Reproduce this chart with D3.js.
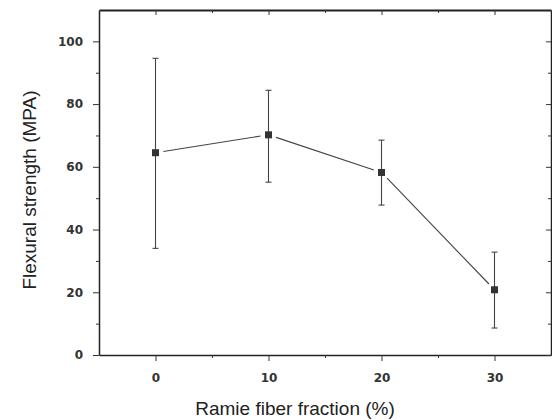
<!DOCTYPE html>
<html>
<head>
<meta charset="utf-8">
<script src="https://cdn.jsdelivr.net/npm/d3@7"></script>
<style>
  body { margin: 0; background: #fff; }
  .tick text { font-family: "DejaVu Sans", sans-serif; font-weight: bold; font-size: 12px; fill: #333; }
  .title { font-family: "Liberation Sans", Arial, sans-serif; font-size: 19px; fill: #222; }
</style>
</head>
<body>
<svg width="552" height="420"></svg>
<script>
// fiber fraction (%) vs flexural strength (MPa)
const fractions = [0, 10, 20, 30];
const strength = [64.5, 70.2, 58.2, 20.8];
const errHigh = [94.6, 84.4, 68.5, 32.8];
const errLow = [34.0, 55.1, 47.8, 8.6];

const xMajor = [0, 10, 20, 30];
const xMinor = [5, 15, 25];
const yMajor = [0, 20, 40, 60, 80, 100];
const yMinor = [10, 30, 50, 70, 90];

const svg = d3.select('svg');

const x = d3.scaleLinear().domain([-5, 35]).range([99, 551]);
const y = d3.scaleLinear().domain([0, 110]).range([355, 10]);

const axisStyle = (g) => {
  g.select('.domain').attr('stroke', '#222').attr('stroke-width', 1.5);
  g.selectAll('.tick line').attr('stroke', '#333');
};

// bottom axis
svg.append('g')
  .attr('transform', `translate(0,${y(0)})`)
  .call(d3.axisBottom(x).tickValues(xMajor).tickSize(6).tickSizeOuter(0).tickPadding(12))
  .call(axisStyle);
svg.append('g')
  .attr('transform', `translate(0,${y(0)})`)
  .call(d3.axisBottom(x).tickValues(xMinor).tickSize(3).tickSizeOuter(0).tickFormat(''))
  .call(g => g.select('.domain').remove())
  .call(axisStyle);

// top axis (ticks inward)
svg.append('g')
  .attr('transform', `translate(0,${y(110)})`)
  .call(d3.axisTop(x).tickValues(xMajor).tickSize(-5).tickSizeOuter(0).tickFormat(''))
  .call(axisStyle)
  .call(g => g.select('.domain').attr('stroke-width', 2.2));
svg.append('g')
  .attr('transform', `translate(0,${y(110)})`)
  .call(d3.axisTop(x).tickValues(xMinor).tickSize(-3).tickFormat(''))
  .call(g => g.select('.domain').remove())
  .call(axisStyle);

// left axis
svg.append('g')
  .attr('transform', `translate(${x(-5)},0)`)
  .call(d3.axisLeft(y).tickValues(yMajor).tickSize(6).tickSizeOuter(0).tickPadding(10))
  .call(axisStyle);
svg.append('g')
  .attr('transform', `translate(${x(-5)},0)`)
  .call(d3.axisLeft(y).tickValues(yMinor).tickSize(3).tickFormat(''))
  .call(g => g.select('.domain').remove())
  .call(axisStyle);

// right axis (ticks inward)
svg.append('g')
  .attr('transform', `translate(${x(35)},0)`)
  .call(d3.axisRight(y).tickValues(yMajor).tickSize(-5).tickSizeOuter(0).tickFormat(''))
  .call(axisStyle);
svg.append('g')
  .attr('transform', `translate(${x(35)},0)`)
  .call(d3.axisRight(y).tickValues(yMinor).tickSize(-3).tickFormat(''))
  .call(g => g.select('.domain').remove())
  .call(axisStyle);

const pts = fractions.map((f, i) => ({ f, v: strength[i], hi: errHigh[i], lo: errLow[i] }));

// connecting line, with small gaps around the markers
const gap = 8;
const segs = d3.pairs(pts).map(([a, b]) => {
  const x1 = x(a.f), y1 = y(a.v), x2 = x(b.f), y2 = y(b.v);
  const len = Math.hypot(x2 - x1, y2 - y1);
  const ux = (x2 - x1) / len, uy = (y2 - y1) / len;
  return [x1 + ux * gap, y1 + uy * gap, x2 - ux * gap, y2 - uy * gap];
});
svg.append('g').selectAll('line')
  .data(segs)
  .join('line')
  .attr('x1', d => d[0]).attr('y1', d => d[1])
  .attr('x2', d => d[2]).attr('y2', d => d[3])
  .attr('stroke', '#444')
  .attr('stroke-width', 1.1);

// error bars
const eb = svg.append('g').attr('stroke', '#444').attr('stroke-width', 1.1);
eb.selectAll('.stem')
  .data(pts)
  .join('line')
  .attr('x1', d => x(d.f)).attr('x2', d => x(d.f))
  .attr('y1', d => y(d.hi)).attr('y2', d => y(d.lo));
eb.selectAll('.capHi')
  .data(pts)
  .join('line')
  .attr('x1', d => x(d.f) - 3).attr('x2', d => x(d.f) + 3)
  .attr('y1', d => y(d.hi)).attr('y2', d => y(d.hi));
eb.selectAll('.capLo')
  .data(pts)
  .join('line')
  .attr('x1', d => x(d.f) - 3).attr('x2', d => x(d.f) + 3)
  .attr('y1', d => y(d.lo)).attr('y2', d => y(d.lo));

// markers
svg.append('g').selectAll('rect')
  .data(pts)
  .join('rect')
  .attr('x', d => x(d.f) - 3.5)
  .attr('y', d => y(d.v) - 3.5)
  .attr('width', 7)
  .attr('height', 7)
  .attr('fill', '#333');

// axis titles
svg.append('text')
  .attr('class', 'title')
  .attr('x', (x(-5) + x(35)) / 2 - 30)
  .attr('y', 415)
  .attr('text-anchor', 'middle')
  .text('Ramie fiber fraction (%)');

svg.append('text')
  .attr('class', 'title')
  .attr('transform', `translate(36,190) rotate(-90)`)
  .attr('text-anchor', 'middle')
  .text('Flexural strength (MPA)');
</script>
</body>
</html>
